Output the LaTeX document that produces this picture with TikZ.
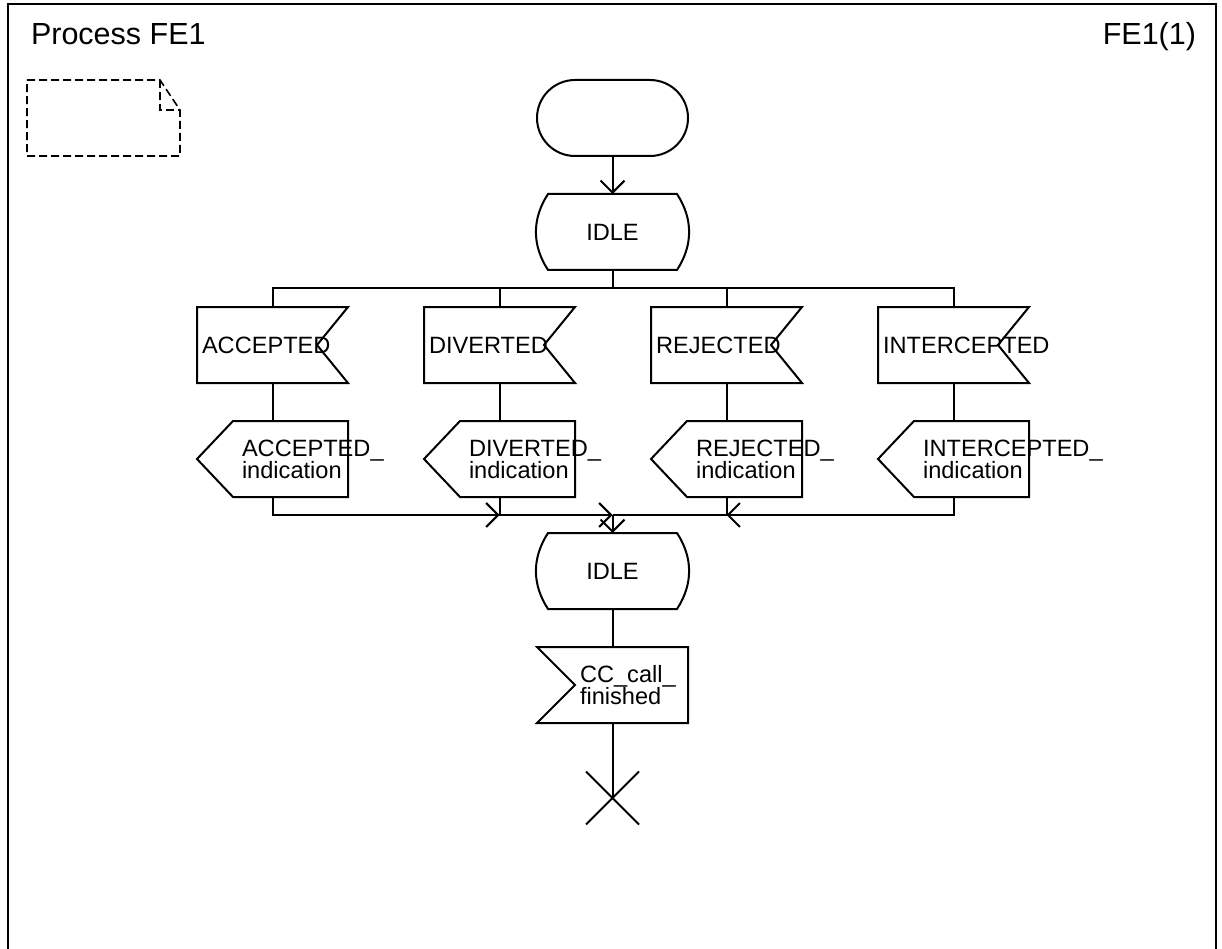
\documentclass[tikz,border=0pt]{standalone}
\usepackage{fontspec}
\setmainfont{Liberation Sans}
\usetikzlibrary{arrows.meta, positioning, shapes.misc}

\begin{document}
\begin{tikzpicture}[
        x=1pt, y=-1pt,
        line width=2pt,
        sdl/.style={
            minimum width=151pt,
            minimum height=76pt,
            inner sep=0pt,
            outer sep=0pt,
            align=left,
            font=\fontsize{23.6pt}{22pt}\selectfont
        },
        terminator/.style={
            sdl,
            draw,
            rounded corners=38pt
        },
        state/.style={
            sdl,
            append after command={\pgfextra{\let\sdlnode\tikzlastnode
                \draw ([xshift=11pt]\sdlnode.north west) -- ([xshift=-11pt]\sdlnode.north east)
                    to[bend left=33] ([xshift=-11pt]\sdlnode.south east)
                    -- ([xshift=11pt]\sdlnode.south west)
                    to[bend left=33] cycle;}}
        },
        input/.style={
            sdl,
            text width=141pt,
            append after command={\pgfextra{\let\sdlnode\tikzlastnode
                \draw (\sdlnode.north west) -- (\sdlnode.north east)
                    -- ([xshift=-31pt]\sdlnode.east) -- (\sdlnode.south east)
                    -- (\sdlnode.south west) -- cycle;}}
        },
        output/.style={
            sdl,
            text width=61pt,
            append after command={\pgfextra{\let\sdlnode\tikzlastnode
                \draw (\sdlnode.west) -- ([xshift=36pt]\sdlnode.north west)
                    -- (\sdlnode.north east) -- (\sdlnode.south east)
                    -- ([xshift=36pt]\sdlnode.south west) -- cycle;}}
        },
        leftinput/.style={
            sdl,
            text width=65pt,
            append after command={\pgfextra{\let\sdlnode\tikzlastnode
                \draw (\sdlnode.north west) -- (\sdlnode.north east)
                    -- (\sdlnode.south east) -- (\sdlnode.south west)
                    -- ([xshift=38pt]\sdlnode.west) -- cycle;}}
        },
        stopcross/.style={
            draw,
            cross out,
            minimum size=53pt,
            inner sep=0pt,
            outer sep=0pt
        },
        flow/.style={
            -{Straight Barb[length=12pt, width=24pt]}
        },
        frame/.style={
            line width=2.6pt
        },
        heading/.style={
            inner sep=0pt,
            font=\fontsize{30.5pt}{36pt}\selectfont
        }
    ]
    \useasboundingbox (0,0) rectangle (1222,949);

    % Frame and heading
    \draw [frame] (8,949) -- (8,4) -- (1216,4) -- (1216,949);
    \node (process) [heading, anchor=base west] at (30,45) {Process FE1};
    \node (page) [heading, anchor=base east] at (1197,45) {FE1(1)};

    % Text symbol
    \draw [line width=1.6pt, dash pattern=on 8pt off 4pt]
        (27,80) -- (160,80) -- (180,110) -- (180,156) -- (27,156) -- cycle;
    \draw [line width=1.6pt, dash pattern=on 8pt off 4pt]
        (160,80) -- (160,110) -- (180,110);

    % Nodes
    \node (start) [terminator] at (612.5,118) {};
    \node (idle) [state, below=38pt of start] {IDLE};

    \node (accepted) [input] at (272.5,345) {ACCEPTED};
    \node (diverted) [input, right=76pt of accepted] {DIVERTED};
    \node (rejected) [input, right=76pt of diverted] {REJECTED};
    \node (intercepted) [input, right=76pt of rejected] {INTERCEPTED};

    \node (acceptedind) [output, below=38pt of accepted] {ACCEPTED\_\\indication};
    \node (divertedind) [output, below=38pt of diverted] {DIVERTED\_\\indication};
    \node (rejectedind) [output, below=38pt of rejected] {REJECTED\_\\indication};
    \node (interceptedind) [output, below=38pt of intercepted] {INTERCEPTED\_\\indication};

    \node (idleagain) [state] at (612.5,571) {IDLE};
    \node (finished) [leftinput, below=38pt of idleagain] {CC\_call\_\\finished};
    \node (stop) [stopcross, below=48.5pt of finished] {};

    \coordinate (split) at (612.5,288);
    \coordinate (join) at (612.5,515);
    \coordinate (joinleft) at (divertedind |- join);
    \coordinate (joinright) at (rejectedind |- join);

    % Arrows
    \draw [flow] (start) -- (idle);
    \draw (idle) -- (split);
    \draw (accepted) |- (split) -| (intercepted);
    \draw (diverted) |- (split);
    \draw (rejected) |- (split);

    \draw (accepted) -- (acceptedind);
    \draw (diverted) -- (divertedind);
    \draw (rejected) -- (rejectedind);
    \draw (intercepted) -- (interceptedind);

    \draw [flow] (acceptedind) |- (joinleft);
    \draw [flow] (divertedind) |- (join);
    \draw (rejectedind) |- (join);
    \draw [flow] (interceptedind) |- (joinright);
    \draw [flow] (join) -- (idleagain);

    \draw (idleagain) -- (finished);
    \draw (finished) -- (stop.center);

\end{tikzpicture}
\end{document}
